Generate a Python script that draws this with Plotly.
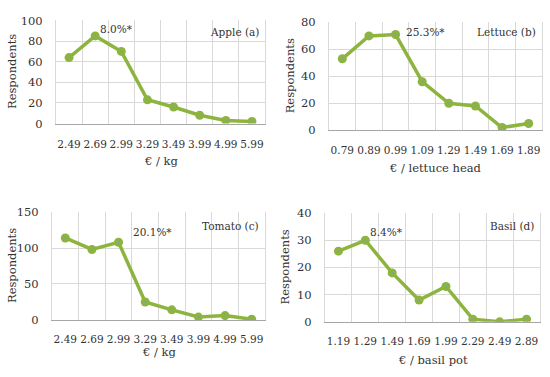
import plotly.graph_objects as go

W, H = 550, 377

apple_x = ["2.49", "2.69", "2.99", "3.29", "3.49", "3.99", "4.99", "5.99"]
apple_y = [64, 85, 70, 23, 16, 8, 3, 2]
lettuce_x = ["0.79", "0.89", "0.99", "1.09", "1.29", "1.49", "1.69", "1.89"]
lettuce_y = [53, 70, 71, 36, 20, 18, 2, 5]
tomato_x = ["2.49", "2.69", "2.99", "3.29", "3.49", "3.99", "4.99", "5.99"]
tomato_y = [114, 98, 108, 25, 14, 4, 6, 1]
basil_x = ["1.19", "1.29", "1.49", "1.69", "1.99", "2.29", "2.49", "2.89"]
basil_y = [26, 30, 18, 8, 13, 1, 0, 1]

panels = [
    dict(x=apple_x, y=apple_y, label="Apple (a)", pct="8.0%*", xtitle="€ / kg",
         ymax=100, dtick=20, box=(56, 265, 14, 121), pct_pos=(1.12, 0.915), lab_y=0.885,
         ytitle_x=12, xtitle_y=160, standoff=11),
    dict(x=lettuce_x, y=lettuce_y, label="Lettuce (b)", pct="25.3%*", xtitle="€ / lettuce head",
         ymax=80, dtick=20, box=(329, 542, 16, 128), pct_pos=(2.3, 0.91), lab_y=0.91,
         ytitle_x=290, xtitle_y=167, standoff=10),
    dict(x=tomato_x, y=tomato_y, label="Tomato (c)", pct="20.1%*", xtitle="€ / kg",
         ymax=150, dtick=50, box=(52, 265, 213, 325), pct_pos=(2.45, 0.82), lab_y=0.87,
         ytitle_x=12, xtitle_y=358, standoff=9),
    dict(x=basil_x, y=basil_y, label="Basil (d)", pct="8.4%*", xtitle="€ / basil pot",
         ymax=40, dtick=10, box=(325, 540, 214, 327), pct_pos=(1.1, 0.83), lab_y=0.885,
         ytitle_x=285, xtitle_y=367, standoff=10),
]

GREEN = "#8DB43E"
FONT = "DejaVu Serif"
TXT = "#333333"
fig = go.Figure()
annotations = []
for i, p in enumerate(panels, start=1):
    xa = "x" if i == 1 else f"x{i}"
    ya = "y" if i == 1 else f"y{i}"
    x0, x1, y0, y1 = p["box"]
    fig.add_trace(go.Scatter(
        x=p["x"], y=p["y"], xaxis=xa, yaxis=ya, mode="lines+markers",
        line=dict(color=GREEN, width=3.5),
        marker=dict(color=GREEN, size=9, line=dict(width=0)),
        showlegend=False, hoverinfo="skip"))
    fig.add_trace(go.Scatter(
        x=p["x"], y=p["y"], xaxis=xa, yaxis=ya, mode="markers",
        marker=dict(color="#7f9fb8", size=2),
        showlegend=False, hoverinfo="skip"))
    xkey = "xaxis" if i == 1 else f"xaxis{i}"
    ykey = "yaxis" if i == 1 else f"yaxis{i}"
    fig.layout[xkey] = dict(
        domain=[x0 / W, x1 / W], anchor=ya, type="category",
        range=[-0.5, 7.5], tickson="boundaries", showgrid=True, tickangle=0,
        gridcolor="#d9d9d9", gridwidth=1, showline=True, linecolor="#a6a6a6",
        linewidth=1, mirror=False, ticks="", ticklabelstandoff=p["standoff"],
        tickfont=dict(family=FONT, size=10.5, color=TXT),
        fixedrange=True)
    fig.layout[ykey] = dict(
        domain=[1 - y1 / H, 1 - y0 / H], anchor=xa, range=[0, p["ymax"]],
        dtick=p["dtick"], showgrid=True, gridcolor="#d9d9d9", gridwidth=1,
        showline=True, linecolor="#d9d9d9", mirror=True, zeroline=False,
        ticks="", ticklabelstandoff=10,
        tickfont=dict(family=FONT, size=11.5, color=TXT), fixedrange=True)
    annotations.append(dict(x=p["pct_pos"][0], y=p["pct_pos"][1], xref=xa, yref=f"{ya} domain",
                            text=p["pct"], showarrow=False, xanchor="left", yanchor="middle",
                            font=dict(family=FONT, size=10.5, color=TXT)))
    annotations.append(dict(x=0.98, y=p["lab_y"], xref=f"{xa} domain", yref=f"{ya} domain",
                            text=p["label"], showarrow=False, xanchor="right", yanchor="middle",
                            font=dict(family=FONT, size=10.5, color=TXT)))
    annotations.append(dict(x=p["ytitle_x"] / W, y=1 - (y0 + y1) / 2 / H, xref="paper", yref="paper",
                            text="Respondents", textangle=-90, showarrow=False,
                            xanchor="center", yanchor="middle",
                            font=dict(family=FONT, size=11.5, color=TXT)))
    annotations.append(dict(x=(x0 + x1) / 2 / W, y=1 - p["xtitle_y"] / H, xref="paper", yref="paper",
                            text=p["xtitle"], showarrow=False, xanchor="center", yanchor="middle",
                            font=dict(family=FONT, size=11.5, color=TXT)))

fig.update_layout(width=W, height=H, margin=dict(l=0, r=0, t=0, b=0),
                  plot_bgcolor="white", paper_bgcolor="white", annotations=annotations,
                  font=dict(family=FONT))
fig.write_html("out.html", config={"displayModeBar": False},
               post_script="document.body.style.margin='0';")
